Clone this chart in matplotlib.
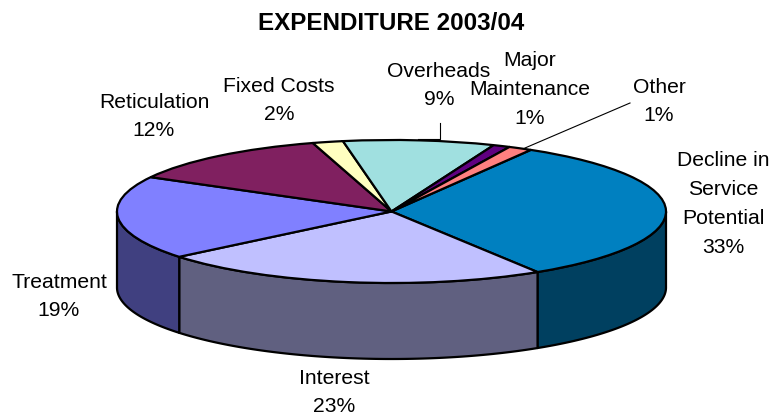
import numpy as np
import matplotlib
matplotlib.use("Agg")
import matplotlib.pyplot as plt
from matplotlib.patches import Polygon

plt.rcParams['font.family'] = ['Liberation Sans', 'DejaVu Sans']

categories = ["Decline in\nService\nPotential", "Interest", "Treatment", "Reticulation",
              "Fixed Costs", "Overheads", "Major\nMaintenance", "Other"]
values = [32.6, 23.0, 18.9, 12.4, 1.8, 8.9, 1.0, 1.4]
top_colors = ["#0080C0", "#C0C0FF", "#8080FF", "#802060",
              "#FFFFC0", "#A0E0E0", "#600080", "#FF8080"]
side_colors = ["#004060", "#606080", "#404080", "#401030",
               "#808060", "#507070", "#300040", "#804040"]
title = "EXPENDITURE 2003/04"

W, H = 769, 418
CX, CY, RX, RY, DEPTH = 391.5, 211.5, 274.5, 71.5, 76
label_xy = [(723, 204), (334, 392.5), (59, 296.5), (154, 116.5), (279, 100.5), (439, 85.5), (530, 89.5), (659, 101.5)]

fig = plt.figure(figsize=(W / 100, H / 100), dpi=100)
ax = fig.add_axes([0, 0, 1, 1])


def px(x, y):
    return (x - CX) / RX, (CY - y) / RY


wedges, _ = ax.pie(values, colors=top_colors, startangle=59.5, counterclock=False, radius=1,
                   wedgeprops=dict(edgecolor="black", linewidth=1.6, zorder=3))
ax.set_aspect("auto")
ax.set_xlim(px(0, 0)[0], px(W, 0)[0])
ax.set_ylim(px(0, H)[1], px(0, 0)[1])
ax.axis("off")

depth = DEPTH / RY
for w, c in zip(wedges, side_colors):
    a, b = w.theta1 % 360, w.theta2 % 360
    if b <= a:
        b += 360
    for lo, hi in ((180, 360), (540, 720)):
        s, e = max(a, lo), min(b, hi)
        if e > s:
            t = np.radians(np.linspace(s, e, 160))
            x, y = np.cos(t), np.sin(t)
            pts = np.r_[np.c_[x, y], np.c_[x[::-1], y[::-1] - depth]]
            ax.add_patch(Polygon(pts, closed=True, facecolor=c, edgecolor="black",
                                 linewidth=1.6, zorder=2, joinstyle="round"))

# leader lines
for seg in ([(440, 123), (440, 139), (418, 139)], [(525, 148), (630, 103)]):
    xs, ys = zip(*[px(*p) for p in seg])
    ax.plot(xs, ys, color="black", lw=0.8, zorder=4)

for name, v, (lx, ly) in zip(categories, values, label_xy):
    x, y = px(lx, ly)
    ax.text(x, y, f"{name}\n{v:.0f}%", ha="center", va="center", fontsize=15.2,
            color="black", linespacing=1.66, zorder=5)

x, y = px(391, 24)
ax.text(x, y, title, ha="center", va="center", fontsize=17.4, fontweight="bold", color="black")

fig.savefig("out.png", dpi=100)
